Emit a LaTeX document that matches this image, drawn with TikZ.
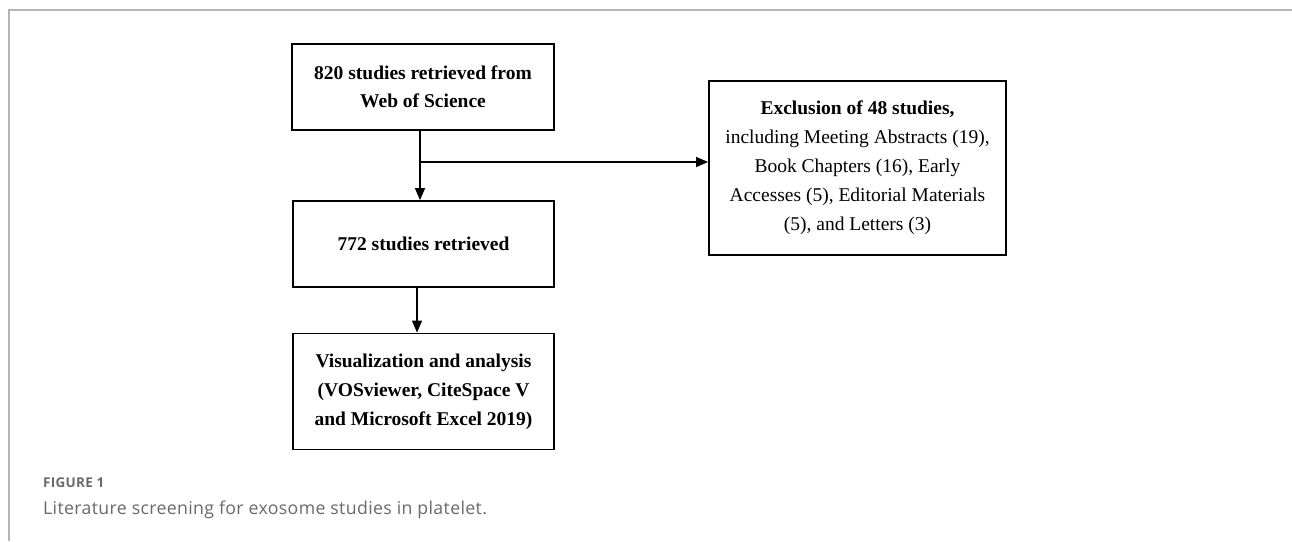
\documentclass[tikz,border=0pt]{standalone}
\usepackage{fontspec}
\setmainfont{Liberation Serif}
\newfontfamily\capfont[LetterSpace=2]{Open Sans}
\usetikzlibrary{arrows.meta}
\definecolor{frameGray}{RGB}{180,180,180}
\definecolor{captionGray}{RGB}{105,105,105}
\tikzset{
  stepbox/.style={draw,line width=1.8pt,align=center,inner sep=0pt,
    font=\fontsize{19.5}{29}\selectfont},
  flow/.style={line width=1.3pt,-{Triangle[length=12pt,width=10pt]}}
}

\begin{document}
\begin{tikzpicture}[x=1pt,y=-1pt]
\useasboundingbox (0,0) rectangle (1292,541);

% Frame
\draw[frameGray,line width=1.3pt] (9,541) -- (9,10) -- (1292,10);

% Main column
\node[stepbox,minimum width=262pt,minimum height=86pt,font=\fontsize{19.5}{28}\selectfont\bfseries] (retrieved) at (423,87)
  {820 studies retrieved from\\Web of Science};
\node[stepbox,minimum width=261pt,minimum height=86pt,font=\fontsize{19.5}{29}\selectfont\bfseries] (kept) at (423.5,244)
  {772 studies retrieved};
\node[stepbox,minimum width=261pt,minimum height=116pt,font=\fontsize{19.5}{29}\selectfont\bfseries] (analysis) at (423.5,391.5)
  {Visualization and analysis\\(VOSviewer, CiteSpace V\\and Microsoft Excel 2019)};

% Excluded studies
\node[stepbox,minimum width=297pt,minimum height=174pt] (excluded) at (857.5,168)
  {\textbf{Exclusion of 48 studies,}\\including Meeting Abstracts (19),\\Book Chapters (16), Early\\Accesses (5), Editorial Materials\\(5), and Letters (3)};

% Connections
\coordinate (split) at (420,162);
\draw[flow] (retrieved.south -| split) -- (kept.north -| split);
\draw[flow] (split) -- (split -| excluded.west);
\draw[flow] (kept.south -| 417,0) -- (analysis.north -| 417,0);

% Caption
\node[anchor=west,inner sep=0pt,text=captionGray,font=\capfont\bfseries\fontsize{13.5}{15}\selectfont] (figlabel) at (43,483) {FIGURE 1};
\node[anchor=west,inner sep=0pt,text=captionGray,font=\capfont\fontsize{17.7}{21}\selectfont] (figcaption) at (43,510)
  {Literature screening for exosome studies in platelet.};
\end{tikzpicture}
\end{document}
